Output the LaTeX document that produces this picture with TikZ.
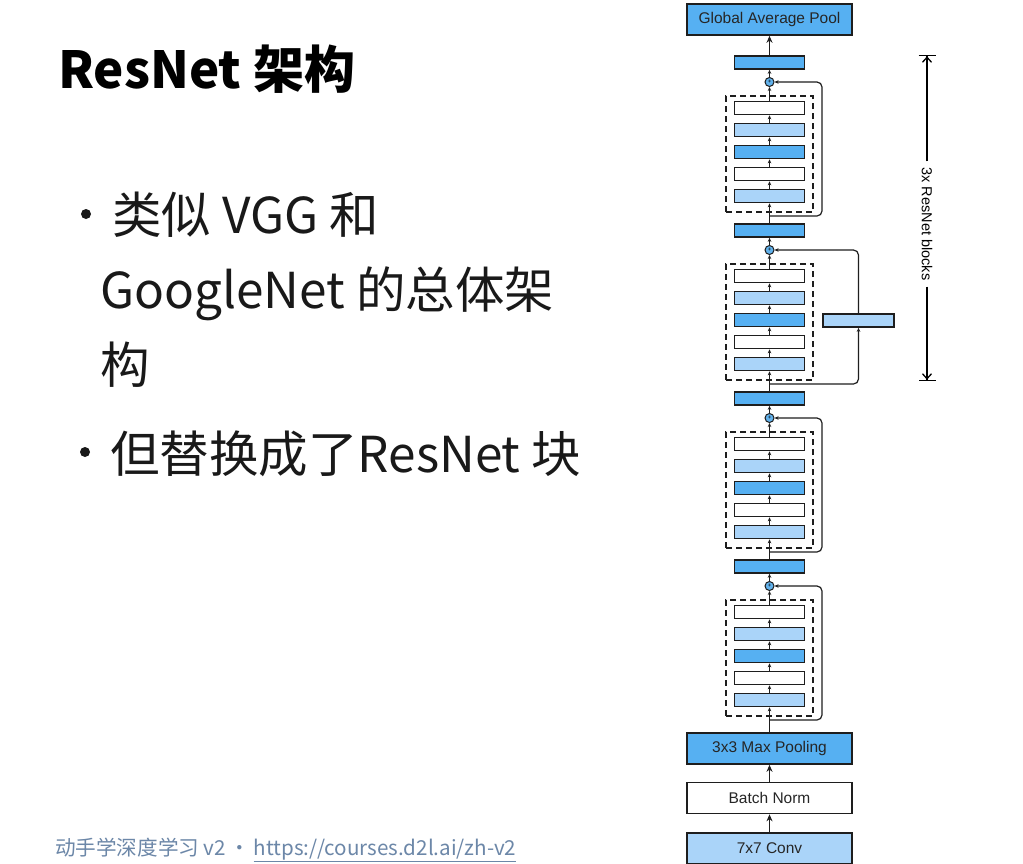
\documentclass[tikz,border=0pt]{standalone}
\usepackage{fontspec}
\setmainfont{Liberation Sans}
\newfontfamily\cjk{Noto Sans CJK SC}
\usetikzlibrary{arrows.meta}
\definecolor{dkblue}{RGB}{86,176,242}
\definecolor{ltblue}{RGB}{170,212,249}
\definecolor{plusblue}{RGB}{98,178,236}
\definecolor{linegray}{RGB}{30,30,30}
\definecolor{footgray}{RGB}{108,135,168}
\begin{document}
\begin{tikzpicture}[x=1pt,y=-1pt,
    widebox/.style={draw=linegray,line width=1.6pt,minimum width=165pt,
                    minimum height=31pt,inner sep=0pt,text=black!85,
                    font=\fontsize{15.5}{16}\selectfont},
    layer/.style={draw=linegray,line width=1.6pt,minimum width=70pt,
                  minimum height=13pt,inner sep=0pt},
    dashbox/.style={draw=linegray,dash pattern=on 6pt off 4pt,line width=1.3pt,
                    minimum width=87pt,minimum height=116pt,inner sep=0pt},
    addnode/.style={circle,draw=linegray,fill=plusblue,line width=1pt,
                    minimum size=9pt,inner sep=0pt,font=\fontsize{6}{6}\selectfont},
    arr/.style={-{Stealth[length=7pt,width=6pt]},line width=1.5pt,draw=linegray},
    sarr/.style={-{Stealth[length=4pt,width=3.5pt]},line width=1.2pt,draw=linegray},
    shortcut/.style={sarr,rounded corners=5pt},
    dim/.style={-{Straight Barb[length=5pt,width=9pt]Bar[width=17pt]},line width=1.3pt},
    body/.style={anchor=base west,inner sep=0pt,text=black!90,font=\cjk\fontsize{49.5}{50}\selectfont},
    dot/.style={circle,fill=black!90,minimum size=10pt,inner sep=0pt}
  ]
  \fill[white] (0,0) rectangle (1023,863);
  \useasboundingbox (0,0) rectangle (1023,863);
  % Slide title and bullets
  \node[anchor=base west,inner sep=0pt,font=\cjk\bfseries\fontsize{51}{51}\selectfont] (title) at (58,88) {ResNet 架构};
  \node[dot] (dot1) at (86,214) {};
  \node[body] (l1) at (112,233) {类似 VGG 和};
  \node[body] (l2) at (100,308) {GoogleNet 的总体架};
  \node[body] (l3) at (100,383) {构};
  \node[dot] (dot2) at (85,452) {};
  \node[body] (l4) at (110,472) {但替换成了ResNet 块};
  \node[anchor=base west,inner sep=0pt,text=footgray,font=\cjk\fontsize{20.6}{21}\selectfont] (foot) at (55,855)
    {动手学深度学习 v2\,•\,\underline{https://courses.d2l.ai/zh-v2}};
  % Stem and head
  \node[widebox,fill=dkblue] (gap) at (769.5,19.5) {Global Average Pool};
  \node[widebox,fill=dkblue] (pool) at (769.5,748.5) {3x3 Max Pooling};
  \node[widebox,fill=white] (bn) at (769.5,798) {Batch Norm};
  \node[widebox,fill=ltblue] (conv) at (769.5,848.5) {7x7 Conv};
  % Residual stages
  \foreach \k in {0,1,2,3} {
    \pgfmathsetmacro{\o}{168*\k}
    \node[layer,fill=dkblue] (b\k) at (769.5,62.5+\o) {};
    \node[addnode] (p\k) at (769.5,82+\o) {+};
    \node[dashbox] (d\k) at (769.5,154+\o) {};
    \node[layer,fill=ltblue] (c\k1) at (769.5,196+\o) {};
    \node[layer,fill=white] (c\k2) at (769.5,174+\o) {};
    \node[layer,fill=dkblue] (c\k3) at (769.5,152+\o) {};
    \node[layer,fill=ltblue] (c\k4) at (769.5,130+\o) {};
    \node[layer,fill=white] (c\k5) at (769.5,108+\o) {};
    \coordinate (s\k) at (769.5,216+\o);
    \draw[sarr] (c\k1) -- (c\k2);
    \draw[sarr] (c\k2) -- (c\k3);
    \draw[sarr] (c\k3) -- (c\k4);
    \draw[sarr] (c\k4) -- (c\k5);
    \draw[sarr] (c\k5) -- (p\k);
    \draw[sarr] (p\k) -- (b\k);
  }
  % 1x1 conv on the second shortcut
  \node[layer,fill=ltblue,minimum width=71pt] (sc) at (858.5,320.5) {};
  % Arrows
  \draw[arr] (b0) -- (gap);
  \draw[sarr] (b1) -- (c01);
  \draw[sarr] (b2) -- (c11);
  \draw[sarr] (b3) -- (c21);
  \draw[sarr] (pool) -- (c31);
  \draw[arr] (conv) -- (bn);
  \draw[arr] (bn) -- (pool);
  \draw[shortcut] (s0) -- ++(52.5,0) |- (p0);
  \draw[shortcut] (s1) -| (sc);
  \draw[shortcut] (sc) |- (p1);
  \draw[shortcut] (s2) -- ++(52.5,0) |- (p2);
  \draw[shortcut] (s3) -- ++(52.5,0) |- (p3);
  % Repeat marker
  \node[rotate=-90,inner sep=6pt,font=\fontsize{14.5}{15}\selectfont] (rep) at (927,224) {3x ResNet blocks};
  \coordinate (rtop) at (927,55);
  \coordinate (rbot) at (927,381);
  \draw[dim] (rep) -- (rtop);
  \draw[dim] (rep) -- (rbot);
\end{tikzpicture}
\end{document}
